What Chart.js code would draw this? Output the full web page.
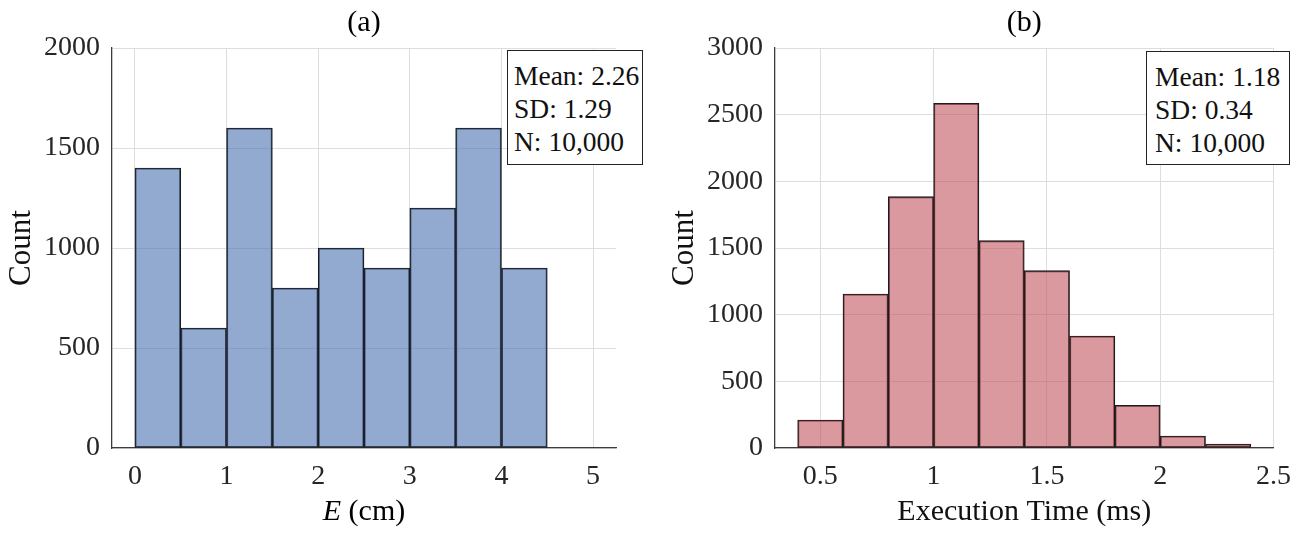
<!DOCTYPE html>
<html>
<head>
<meta charset="utf-8">
<script src="https://cdn.jsdelivr.net/npm/chart.js@4.4.1/dist/chart.umd.min.js"></script>
<style>
  body { margin: 0; background: #fff; }
  #wrap { position: relative; width: 1303px; height: 538px; overflow: hidden;
          font-family: "Liberation Serif", "Times New Roman", serif; }
  canvas { position: absolute; top: 0; }
  #chartA { left: 0; }
  #chartB { left: 663px; }
  .stats { position: absolute; background: #fff; border: 1px solid #222; box-sizing: border-box;
           font-size: 27.5px; line-height: 33px; color: #111; padding-top: 8px; white-space: nowrap; }
  #statsA { left: 507px; top: 50px; width: 136px; height: 115px; padding-left: 6px; }
  #statsB { left: 1146px; top: 51px; width: 144px; height: 114px; padding-left: 8px; }
</style>
</head>
<body>
<div id="wrap">
  <canvas id="chartA" width="650" height="538"></canvas>
  <canvas id="chartB" width="640" height="538"></canvas>
  <div class="stats" id="statsA"></div>
  <div class="stats" id="statsB"></div>
</div>
<script>
// (a) E (cm) histogram
const edgesA = [0, 0.5, 1, 1.5, 2, 2.5, 3, 3.5, 4, 4.5, 5];
const countsA = [1400, 600, 1600, 800, 1000, 900, 1200, 1600, 900, 0];
const xTicksA = [0, 1, 2, 3, 4, 5];
const yTicksA = [0, 500, 1000, 1500, 2000];
const statsA = ["Mean: 2.26", "SD: 1.29", "N: 10,000"];

// (b) execution time histogram
const edgesB = [0.4, 0.6, 0.8, 1.0, 1.2, 1.4, 1.6, 1.8, 2.0, 2.2, 2.4];
const countsB = [210, 1155, 1885, 2585, 1555, 1330, 840, 320, 90, 30];
const xTicksB = [0.5, 1, 1.5, 2, 2.5];
const yTicksB = [0, 500, 1000, 1500, 2000, 2500, 3000];
const statsB = ["Mean: 1.18", "SD: 0.34", "N: 10,000"];

const SERIF = '"Liberation Serif", "Times New Roman", serif';

// panel title and the mixed italic x label are drawn here
const panelText = {
  id: "panelText",
  afterDraw(chart, args, opts) {
    const { ctx, chartArea } = chart;
    const cx = (chartArea.left + chartArea.right) / 2;
    ctx.save();
    ctx.fillStyle = "#000";
    ctx.textBaseline = "middle";
    ctx.textAlign = "center";
    ctx.font = "30px " + SERIF;
    ctx.fillText(opts.title, cx, 23);
    if (opts.italic) {
      ctx.textAlign = "left";
      ctx.font = "italic 30px " + SERIF;
      const w1 = ctx.measureText(opts.italic).width;
      ctx.font = "30px " + SERIF;
      const w2 = ctx.measureText(opts.rest).width;
      const x0 = cx - (w1 + w2) / 2;
      ctx.font = "italic 30px " + SERIF;
      ctx.fillText(opts.italic, x0, 512);
      ctx.font = "30px " + SERIF;
      ctx.fillText(opts.rest, x0 + w1, 512);
    }
    ctx.restore();
  },
};

function makeChart(id, edges, counts, xTicks, yTicks, xMin, xMax, fill, rightPad, textOpts, xTitle) {
  const points = counts.map((c, i) => ({ x: (edges[i] + edges[i + 1]) / 2, y: c }));
  return new Chart(document.getElementById(id), {
    type: "bar",
    data: {
      datasets: [
        {
          data: points,
          backgroundColor: fill,
          borderColor: "#1c1c1c",
          borderWidth: 1.2,
          borderSkipped: false,
          barPercentage: 1,
          categoryPercentage: 1,
        },
      ],
    },
    plugins: [panelText],
    options: {
      responsive: false,
      animation: false,
      layout: { padding: { top: 48, right: rightPad, left: 0, bottom: 0 } },
      plugins: {
        legend: { display: false },
        tooltip: { enabled: false },
        panelText: textOpts,
      },
      scales: {
        x: {
          type: "linear",
          min: xMin,
          max: xMax,
          offset: false,
          afterBuildTicks: (s) => { s.ticks = xTicks.map((v) => ({ value: v })); },
          afterFit: (s) => { s.height = 90; },
          grid: { color: "#dedede", lineWidth: 1, drawTicks: false, offset: false },
          border: { display: true, color: "#3c3c3c", width: 1.3 },
          ticks: {
            padding: 12,
            color: "#262626",
            font: { family: SERIF, size: 28 },
            callback: (v) => String(v),
            maxRotation: 0,
            autoSkip: false,
          },
          title: {
            display: !!xTitle,
            text: xTitle || "",
            color: "#111",
            font: { family: SERIF, size: 30 },
            padding: { top: 0, bottom: 8 },
          },
        },
        y: {
          min: 0,
          max: yTicks[yTicks.length - 1],
          afterBuildTicks: (s) => { s.ticks = yTicks.map((v) => ({ value: v })); },
          afterFit: (s) => { s.width = 112; },
          grid: { color: "#dedede", lineWidth: 1, drawTicks: false },
          border: { display: true, color: "#3c3c3c", width: 1.3 },
          ticks: {
            padding: 12,
            color: "#262626",
            font: { family: SERIF, size: 28 },
            callback: (v) => String(v),
          },
          title: {
            display: true,
            text: "Count",
            color: "#111",
            font: { family: SERIF, size: 31 },
            padding: { top: 3, bottom: 0 },
          },
        },
      },
    },
  });
}

makeChart("chartA", edgesA, countsA, xTicksA, yTicksA, -0.25, 5.25,
  "rgba(75, 113, 177, 0.6)", 34, { title: "(a)", italic: "E", rest: " (cm)" }, null);
makeChart("chartB", edgesB, countsB, xTicksB, yTicksB, 0.3, 2.5,
  "rgba(192, 78, 90, 0.58)", 25, { title: "(b)" }, "Execution Time (ms)");

function fillStats(id, lines) {
  document.getElementById(id).innerHTML = lines.map((t) => "<div>" + t + "</div>").join("");
}
fillStats("statsA", statsA);
fillStats("statsB", statsB);
</script>
</body>
</html>
